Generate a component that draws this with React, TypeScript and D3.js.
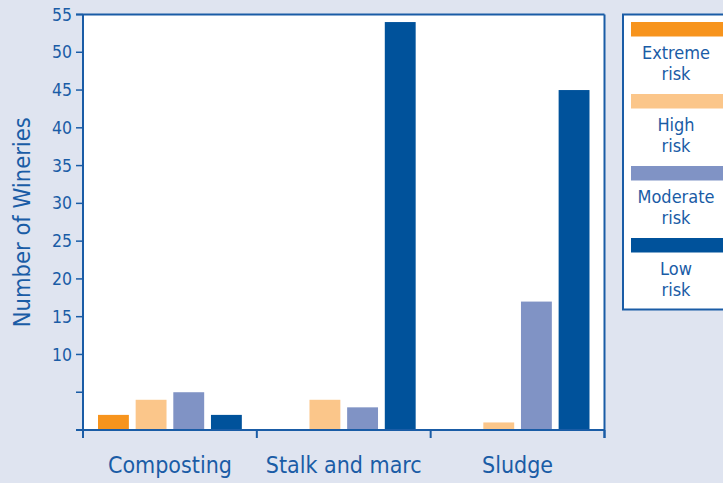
import React from "react";
import * as d3 from "d3";

const categories = ["Composting", "Stalk and marc", "Sludge"];
const riskLevels = ["Extreme risk", "High risk", "Moderate risk", "Low risk"];
const legendLines = [["Extreme", "risk"], ["High", "risk"], ["Moderate", "risk"], ["Low", "risk"]];
const riskColors = ["#f7941d", "#fbc68a", "#8093c5", "#00529b"];
const extremeRisk = [2, 0, 0];
const highRisk = [4, 4, 1];
const moderateRisk = [5, 3, 17];
const lowRisk = [2, 54, 45];
const yTicks = [0, 5, 10, 15, 20, 25, 30, 35, 40, 45, 50, 55];
const yTickLabels = ["", "", "10", "15", "20", "25", "30", "35", "40", "45", "50", "55"];

const W = 723;
const H = 483;
const BG = "#dfe4f0";
const INK = "#1a5ca6";
const FONT = "'DejaVu Sans Condensed', 'DejaVu Sans', sans-serif";

export default function App() {
  const left = 83, right = 604.5, top = 14.5, bottom = 430;
  const x = d3.scaleBand<string>().domain(categories).range([left, right]);
  const inner = d3.scaleBand<string>().domain(riskLevels).range([15, x.bandwidth() - 15]).paddingInner(0.18);
  const y = d3.scaleLinear().domain([0, 55]).range([bottom, top]);
  const series = [extremeRisk, highRisk, moderateRisk, lowRisk];

  return (
    <svg width={W} height={H} style={{ position: "absolute", left: 0, top: 0, display: "block" }}>
      <rect x={0} y={0} width={W} height={H} fill={BG} />
      <rect x={left} y={top} width={right - left} height={bottom - top} fill="#ffffff" />
      {series.map((vals, si) =>
        categories.map((c, ci) =>
          vals[ci] > 0 ? (
            <rect
              key={`${si}-${ci}`}
              x={(x(c) as number) + (inner(riskLevels[si]) as number)}
              y={y(vals[ci])}
              width={inner.bandwidth()}
              height={bottom - y(vals[ci])}
              fill={riskColors[si]}
            />
          ) : null
        )
      )}
      {/* frame */}
      <line x1={left - 7} x2={right} y1={top} y2={top} stroke={INK} strokeWidth={2} />
      <line x1={left} x2={left} y1={top} y2={bottom + 8} stroke={INK} strokeWidth={2} />
      <line x1={right} x2={right} y1={top} y2={bottom + 8} stroke={INK} strokeWidth={2} />
      <line x1={left - 7} x2={right} y1={bottom} y2={bottom} stroke={INK} strokeWidth={2} />
      {/* y ticks */}
      {yTicks.map((t, i) => (
        <g key={t}>
          <line x1={left - 7} x2={left} y1={y(t)} y2={y(t)} stroke={INK} strokeWidth={1.5} />
          {yTickLabels[i] && (
            <text x={left - 11} y={y(t)} dy="0.35em" textAnchor="end" fontSize={17.5} fontFamily={FONT} fill={INK}>
              {yTickLabels[i]}
            </text>
          )}
        </g>
      ))}
      {/* category boundaries */}
      {[...categories.map((c) => x(c) as number), right].map((px, i) => (
        <line key={i} x1={px} x2={px} y1={bottom} y2={bottom + 8} stroke={INK} strokeWidth={2} />
      ))}
      {categories.map((c) => (
        <text
          key={c}
          x={(x(c) as number) + x.bandwidth() / 2}
          y={473}
          textAnchor="middle"
          fontSize={23}
          fontFamily={FONT}
          fill={INK}
        >
          {c}
        </text>
      ))}
      <text
        transform={`translate(30,${(top + bottom) / 2}) rotate(-90)`}
        textAnchor="middle"
        fontSize={23.5}
        fontFamily={FONT}
        fill={INK}
      >
        Number of Wineries
      </text>
      {/* legend */}
      <rect x={623} y={14.5} width={110} height={295} fill="#ffffff" stroke={INK} strokeWidth={2} />
      {legendLines.map((lines, i) => (
        <g key={i} transform={`translate(0,${i * 72})`}>
          <rect x={631} y={22} width={100} height={14.5} fill={riskColors[i]} />
          {lines.map((ln, j) => (
            <text key={j} x={676} y={59 + j * 21} textAnchor="middle" fontSize={18} fontFamily={FONT} fill={INK}>
              {ln}
            </text>
          ))}
        </g>
      ))}
    </svg>
  );
}
